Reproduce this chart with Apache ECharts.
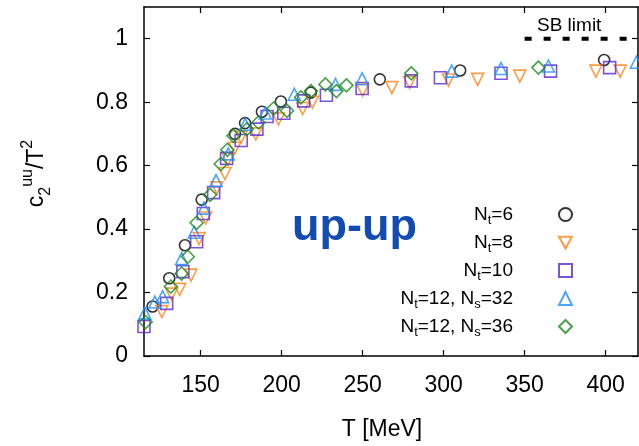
<!DOCTYPE html>
<html><head><meta charset="utf-8">
<script src="https://cdn.jsdelivr.net/npm/echarts@6/dist/echarts.min.js"></script>
<style>html,body{margin:0;padding:0;background:#fff}#c{width:639px;height:446px}</style>
</head><body><div id="c"></div>
<script>
const FONT = '"Liberation Sans", Arial, Helvetica, sans-serif';
const xTicks = [150, 200, 250, 300, 350, 400];
const yTicks = [0, 0.2, 0.4, 0.6, 0.8, 1];

const nt6T = [120.3, 130.6, 140.3, 150.6, 171.2, 177.4, 187.8, 199.5, 218, 260.6, 310.2, 399.1];
const nt6Y = [0.156, 0.245, 0.349, 0.493, 0.700, 0.734, 0.770, 0.802, 0.830, 0.872, 0.900, 0.933];

const nt8T = [126, 132, 137, 144, 149, 153, 160, 165, 167, 171, 175, 184, 198, 213, 219, 250, 268, 279, 303, 321, 347, 394, 409];
const nt8Y = [0.140, 0.195, 0.210, 0.255, 0.370, 0.435, 0.530, 0.575, 0.620, 0.655, 0.690, 0.700, 0.747, 0.780, 0.800, 0.838, 0.846, 0.862, 0.870, 0.872, 0.882, 0.898, 0.898];

const nt10T = [115, 129, 139, 147.5, 151.6, 158, 166, 175, 184.7, 191, 201.3, 213.6, 227.6, 249.7, 280, 298, 335.4, 366, 402.5];
const nt10Y = [0.093, 0.166, 0.266, 0.360, 0.449, 0.515, 0.623, 0.679, 0.715, 0.755, 0.765, 0.804, 0.822, 0.843, 0.867, 0.877, 0.891, 0.898, 0.909];

const nt12aT = [115.5, 121.7, 126.5, 138.2, 146, 152, 159.5, 167, 177.5, 189.8, 207.8, 233.2, 249.7, 305, 335.4, 364.7, 419];
const nt12aY = [0.135, 0.170, 0.187, 0.307, 0.390, 0.466, 0.553, 0.637, 0.730, 0.766, 0.825, 0.856, 0.874, 0.898, 0.906, 0.914, 0.926];

const nt12bT = [116, 131.6, 138.2, 142, 147.5, 155.8, 162.4, 166.5, 170.2, 178.5, 185.7, 195, 203.3, 211.9, 218.1, 227, 233.8, 240, 280, 358.5];
const nt12bY = [0.107, 0.219, 0.260, 0.313, 0.420, 0.508, 0.605, 0.650, 0.694, 0.715, 0.736, 0.780, 0.773, 0.815, 0.835, 0.856, 0.835, 0.853, 0.891, 0.909];

const sbT = [350, 420];
const sbY = [1, 1];

const zip = (a, b) => a.map((v, i) => [v, b[i]]);

const legendLabels = {
  'Nt=6': '{n|N}{s|t}{n|=6}',
  'Nt=8': '{n|N}{s|t}{n|=8}',
  'Nt=10': '{n|N}{s|t}{n|=10}',
  'Nt=12, Ns=32': '{n|N}{s|t}{n|=12, N}{s|s}{n|=32}',
  'Nt=12, Ns=36': '{n|N}{s|t}{n|=12, N}{s|s}{n|=36}'
};

const DOWN_TRI = 'path://M0,0 L10,0 L5,9 Z';

function scatter(name, T, Y, color, symbol, size, rotate) {
  return {
    name, type: 'scatter', data: zip(T, Y), symbol, symbolSize: size, symbolRotate: rotate || 0,
    itemStyle: { color: 'rgba(255,255,255,0)', borderColor: color, borderWidth: 1.6 },
    emphasis: { disabled: true }, z: 3
  };
}

const axisLineStyle = { color: '#000', width: 1.5 };
const tickStyle = { color: '#000', width: 1.2 };

const chart = echarts.init(document.getElementById('c'), null, { renderer: 'canvas' });
chart.setOption({
  animation: false,
  backgroundColor: '#fff',
  grid: { left: 144, right: 1, top: 7, bottom: 88, containLabel: false },
  xAxis: [
    {
      type: 'value', min: 115, max: 420, position: 'bottom',
      axisLine: { onZero: false, lineStyle: axisLineStyle },
      axisTick: { inside: true, length: 6, customValues: xTicks, lineStyle: tickStyle },
      axisLabel: { customValues: xTicks, fontSize: 23, color: '#000', fontFamily: FONT, margin: 18 },
      splitLine: { show: false },
      name: 'T [MeV]', nameLocation: 'middle', nameGap: 62,
      nameTextStyle: { fontSize: 23, color: '#000', fontFamily: FONT, padding: [0, 18, 0, 0] }
    },
    {
      type: 'value', min: 115, max: 420, position: 'top',
      axisLine: { onZero: false, lineStyle: axisLineStyle },
      axisTick: { inside: true, length: 6, customValues: xTicks, lineStyle: tickStyle },
      axisLabel: { show: false }, splitLine: { show: false }
    }
  ],
  yAxis: [
    {
      type: 'value', min: 0, max: 1.1, position: 'left',
      axisLine: { show: true, onZero: false, lineStyle: axisLineStyle },
      axisTick: { show: true, inside: true, length: 6, customValues: yTicks, lineStyle: tickStyle },
      axisLabel: { customValues: yTicks, fontSize: 23, color: '#000', fontFamily: FONT, margin: 16 },
      splitLine: { show: false },
      name: '{n|c}{sub|2}{sup|uu}{n|/T}{sup|2}', nameLocation: 'middle', nameRotate: 90, nameGap: 90,
      nameTextStyle: {
        color: '#000', fontFamily: FONT, padding: [0, 0, 0, 16],
        rich: {
          n: { fontSize: 23, lineHeight: 34, fontFamily: FONT, color: '#000' },
          sub: { fontSize: 16, lineHeight: 34, verticalAlign: 'bottom', fontFamily: FONT, color: '#000' },
          sup: { fontSize: 16, lineHeight: 34, verticalAlign: 'top', fontFamily: FONT, color: '#000' }
        }
      }
    },
    {
      type: 'value', min: 0, max: 1.1, position: 'right',
      axisLine: { show: true, onZero: false, lineStyle: axisLineStyle },
      axisTick: { show: true, inside: true, length: 6, customValues: yTicks, lineStyle: tickStyle },
      axisLabel: { show: false }, splitLine: { show: false }
    }
  ],
  legend: {
    orient: 'vertical', right: 66, top: 205, align: 'right', padding: 0, itemGap: 3.5,
    itemWidth: 13, itemHeight: 13,
    data: [
      { name: 'Nt=6' },
      { name: 'Nt=8', icon: DOWN_TRI },
      { name: 'Nt=10' },
      { name: 'Nt=12, Ns=32' },
      { name: 'Nt=12, Ns=36' }
    ],
    formatter: name => legendLabels[name],
    textStyle: {
      padding: [0, 41, 0, 0], color: '#000', fontFamily: FONT,
      rich: {
        n: { fontSize: 19, lineHeight: 30, fontFamily: FONT, color: '#000' },
        s: { fontSize: 13, lineHeight: 30, verticalAlign: 'bottom', padding: [0, 0, 3, 0], fontFamily: FONT, color: '#000' }
      }
    }
  },
  series: [
    {
      name: 'SB limit', type: 'line', data: zip(sbT, sbY), symbol: 'none',
      lineStyle: { color: '#000', width: 4, type: [7, 12] }, z: 2, silent: true
    },
    scatter('Nt=6', nt6T, nt6Y, '#000000', 'circle', 11),
    scatter('Nt=8', nt8T, nt8Y, '#ff8418', 'triangle', 12, 180),
    scatter('Nt=10', nt10T, nt10Y, '#5a28d2', 'rect', 12),
    scatter('Nt=12, Ns=32', nt12aT, nt12aY, '#1e8fff', 'triangle', 12),
    scatter('Nt=12, Ns=36', nt12bT, nt12bY, '#1a8a1a', 'diamond', 13)
  ],
  graphic: [
    {
      type: 'text', left: 537, top: 16,
      style: { text: 'SB limit', font: '19px ' + FONT, fill: '#000' }
    },
    {
      type: 'text', left: 292, top: 205,
      style: {
        text: 'up-up', font: 'bold 45px ' + FONT, fill: '#124cb2',
        shadowColor: 'rgba(0,0,0,0.45)', shadowBlur: 8, shadowOffsetX: 3, shadowOffsetY: 4
      }
    }
  ]
});
</script></body></html>
